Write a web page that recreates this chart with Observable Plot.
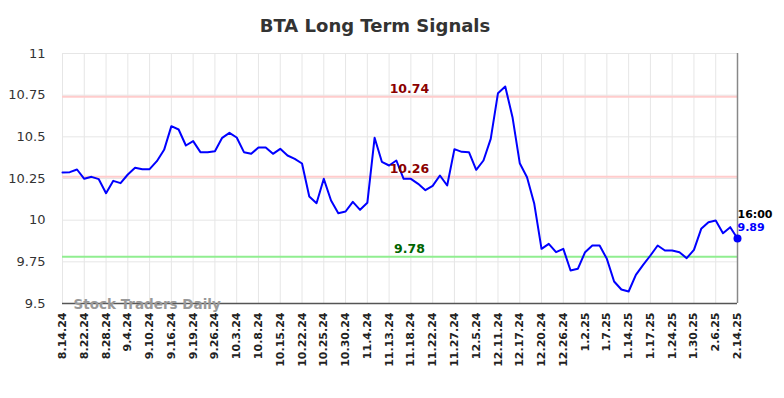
<!DOCTYPE html>
<html><head><meta charset="utf-8">
<script src="https://cdn.jsdelivr.net/npm/d3@7"></script>
<script src="https://cdn.jsdelivr.net/npm/@observablehq/plot@0.6"></script>
<style>
body{margin:0;background:#fff;font-family:"DejaVu Sans",sans-serif;}
#wrap{position:relative;width:784px;height:398px;}
#title{position:absolute;top:15px;left:0;width:750px;text-align:center;font-weight:bold;font-size:18px;color:#333;line-height:22px;}
#chart{position:absolute;top:0;left:0;}
</style></head><body><div id="wrap"><div id="chart"></div><div id="title">BTA Long Term Signals</div></div>
<script>
const title = "BTA Long Term Signals";
const tickLabels = ["8.14.24","8.22.24","8.28.24","9.4.24","9.10.24","9.16.24","9.19.24","9.26.24","10.3.24","10.8.24","10.15.24","10.22.24","10.25.24","10.30.24","11.4.24","11.13.24","11.18.24","11.22.24","11.27.24","12.5.24","12.11.24","12.17.24","12.20.24","12.26.24","1.2.25","1.7.25","1.14.25","1.17.25","1.24.25","1.30.25","2.6.25","2.14.25"];
const prices = [10.286,10.288,10.304,10.248,10.26,10.246,10.162,10.236,10.222,10.274,
10.314,10.306,10.306,10.354,10.422,10.564,10.544,10.448,10.474,10.408,
10.408,10.414,10.494,10.524,10.496,10.408,10.398,10.436,10.436,10.398,
10.428,10.388,10.368,10.34,10.142,10.102,10.248,10.118,10.042,10.052,
10.11,10.062,10.104,10.494,10.35,10.328,10.358,10.248,10.248,10.218,
10.18,10.206,10.268,10.208,10.426,10.41,10.408,10.302,10.358,10.488,
10.762,10.802,10.618,10.342,10.258,10.098,9.828,9.858,9.808,9.828,
9.698,9.708,9.808,9.848,9.848,9.768,9.632,9.584,9.572,9.672,
9.732,9.788,9.848,9.818,9.818,9.808,9.772,9.822,9.948,9.988,
9.998,9.922,9.958,9.89];
const levels = [10.74, 10.26, 9.78];
const yTicks = [9.5, 9.75, 10, 10.25, 10.5, 10.75, 11];
const lastTime = "16:00";
const watermark = "Stock Traders Daily";

const data = prices.map((v, i) => ({i, v}));
const tickIdx = tickLabels.map((d, k) => k * 3);
const lastI = prices.length - 1;
const last = data[lastI];
const lvl = levels.map(v => ({v, up: v > last.v}));

const chart = Plot.plot({
  width: 784, height: 398,
  marginLeft: 62, marginRight: 47, marginTop: 53, marginBottom: 95,
  style: {fontFamily: "DejaVu Sans", background: "#fff", overflow: "visible"},
  x: {domain: [0, lastI]},
  y: {domain: [9.5, 11]},
  marks: [
    Plot.gridX(tickIdx, {stroke: "#e6e6e6", strokeOpacity: 1}),
    Plot.gridY(yTicks, {stroke: "#e6e6e6", strokeOpacity: 1}),
    Plot.ruleY(lvl, {y: "v", stroke: d => d.up ? "#ffcccc" : "#90ee90", strokeWidth: 2}),
    Plot.axisY(yTicks, {tickSize: 0, tickPadding: 17, fontSize: 13, fill: "#333", tickFormat: d => String(d), label: null}),
    Plot.axisX(tickIdx, {tickSize: 0, tickPadding: 9, tickRotate: -90, tickFormat: i => tickLabels[i / 3], fontWeight: "bold", fontSize: 11, fill: "#222", label: null}),
    Plot.ruleY([9.5], {stroke: "#555", strokeWidth: 1.5}),
    Plot.ruleX([lastI], {stroke: "#888", strokeWidth: 1.5}),
    Plot.text([watermark], {text: d => d, frameAnchor: "bottom-left", dx: 11, dy: 5, textAnchor: "start", fill: "#999", fontWeight: "bold", fontSize: 13.5}),
    Plot.line(data, {x: "i", y: "v", stroke: "#0000ff", strokeWidth: 2}),
    Plot.dot([last], {x: "i", y: "v", r: 4, fill: "#0000ff"}),
    Plot.text(lvl, {x: () => 47.8, y: "v", text: d => d.v.toFixed(2), dy: -8, fill: d => d.up ? "#8b0000" : "#006400", fontWeight: "bold", fontSize: 12.5}),
    Plot.text([last], {x: "i", y: "v", text: () => lastTime, textAnchor: "start", dy: -24, fill: "#000", fontWeight: "bold", fontSize: 11}),
    Plot.text([last], {x: "i", y: "v", text: d => d.v.toFixed(2), textAnchor: "start", dy: -11, fill: "#0000ff", fontWeight: "bold", fontSize: 11})
  ]
});
document.getElementById("chart").appendChild(chart);
</script>
</body></html>
